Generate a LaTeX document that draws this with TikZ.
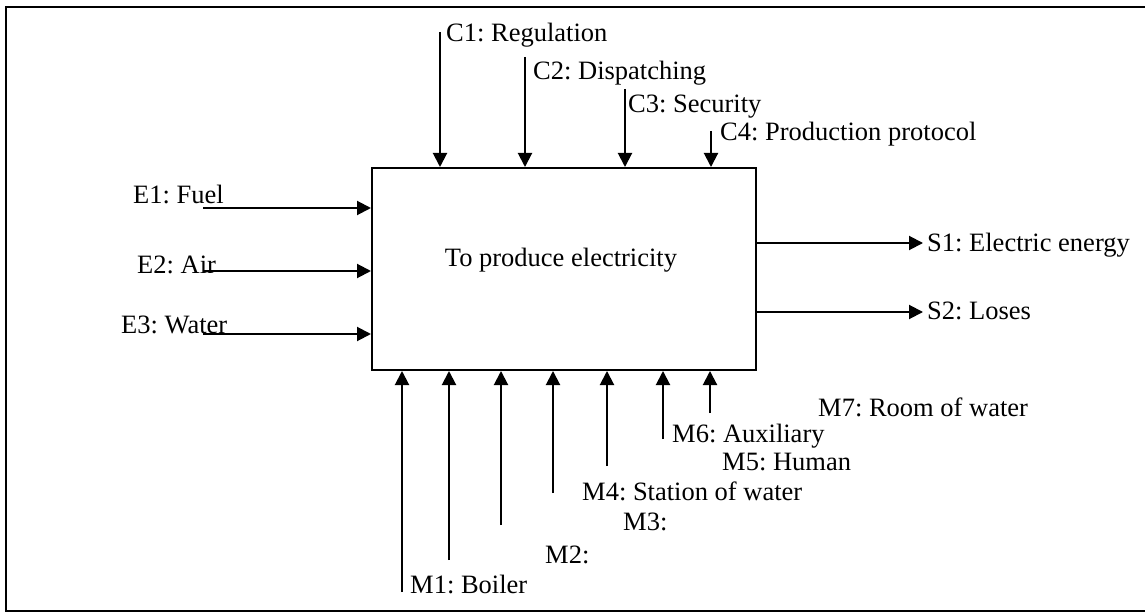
\documentclass[tikz,border=0pt]{standalone}
\usepackage{fontspec}
\setmainfont{Liberation Serif}
\usetikzlibrary{arrows.meta}
\frenchspacing
\begin{document}
\begin{tikzpicture}[x=1pt,y=-1pt,
  txt/.style={font=\fontsize{26.5}{28}\selectfont, inner sep=0pt},
  lbl/.style={txt, anchor=base west},
  arr/.style={line width=2pt, -{Triangle[length=14pt,width=14pt]}}]
\useasboundingbox (0,0) rectangle (1145,612);
\draw[line width=2pt] (1160,7) -- (6,7) -- (6,611) -- (1160,611);
\node[draw, line width=2pt, minimum width=384pt, minimum height=202pt, anchor=north west, inner sep=0pt] (box) at (371,167) {};
\node[txt, anchor=base] (title) at (561,266) {To produce electricity};
% controls
\coordinate (c1) at (440,32);
\coordinate (c2) at (525,57);
\coordinate (c3) at (625,89);
\coordinate (c4) at (711,131);
\foreach \c in {c1,c2,c3,c4}{\draw[arr] (\c) -- (\c |- box.north);}
\node[lbl] (lc1) at (446,42) {C1: Regulation};
\node[lbl] (lc2) at (533,80) {C2: Dispatching};
\node[lbl] (lc3) at (628,113) {C3: Security};
\node[lbl] (lc4) at (720,141) {C4: Production protocol};
% inputs
\coordinate (e1) at (203,208);
\coordinate (e2) at (203,271);
\coordinate (e3) at (203,334);
\foreach \e in {e1,e2,e3}{\draw[arr] (\e) -- (\e -| box.west);}
\node[lbl] (le1) at (133,204) {E1: Fuel};
\node[lbl] (le2) at (137,273) {E2: Air};
\node[lbl] (le3) at (121,333) {E3: Water};
% outputs
\coordinate (s1) at (755,243);
\coordinate (s2) at (755,312);
\node[lbl] (ls1) at (927,252) {S1: Electric energy};
\node[lbl] (ls2) at (927,319) {S2: Loses};
\draw[arr, shorten >=4pt] (s1) -- (s1 -| ls1.west);
\draw[arr, shorten >=4pt] (s2) -- (s2 -| ls2.west);
% mechanisms
\coordinate (m1) at (402,592);
\coordinate (m2) at (449,560);
\coordinate (m3) at (501,525);
\coordinate (m4) at (553,493);
\coordinate (m5) at (607,466);
\coordinate (m6) at (663,439);
\coordinate (m7) at (710,413);
\foreach \m in {m1,m2,m3,m4,m5,m6,m7}{\draw[arr] (\m) -- (\m |- box.south);}
\node[lbl] (lm1) at (410,593) {M1: Boiler};
\node[lbl] (lm2) at (545,563) {M2:};
\node[lbl] (lm3) at (623,530) {M3:};
\node[lbl] (lm4) at (582,500) {M4: Station of water};
\node[lbl] (lm5) at (722,470) {M5: Human};
\node[lbl] (lm6) at (672,442) {M6: Auxiliary};
\node[lbl] (lm7) at (818,416) {M7: Room of water};
\end{tikzpicture}
\end{document}
